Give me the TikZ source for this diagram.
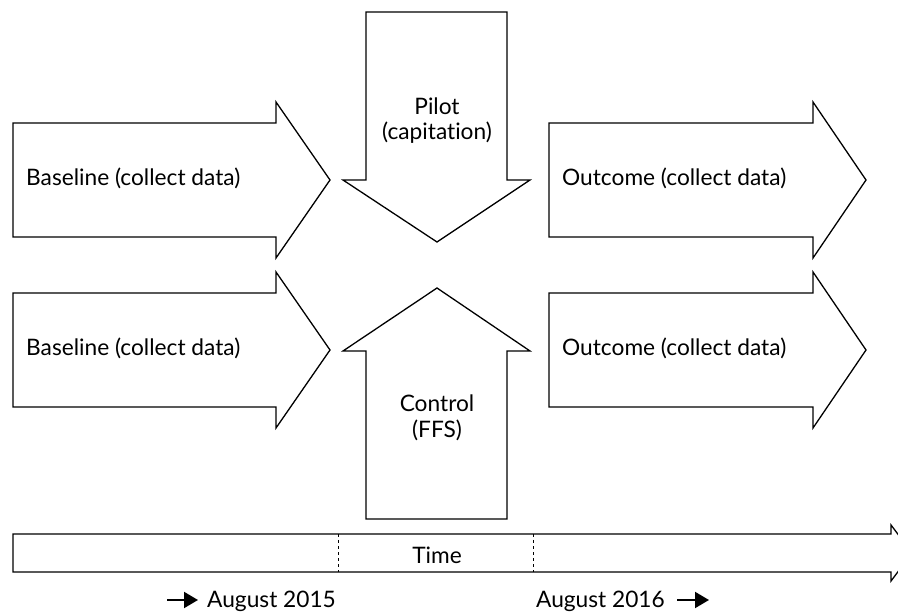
\documentclass[tikz,border=0pt]{standalone}
\usepackage{fontspec}
\setmainfont{Lato}[Ligatures={NoCommon}]
\usetikzlibrary{arrows.meta}
\begin{document}
\begin{tikzpicture}[x=1pt,y=-1pt,
  arrowshape/.style={draw=black,line width=1.3pt,line join=miter,fill=white},
  lbl/.style={inner sep=0pt,font=\fontsize{22.7}{26}\selectfont},
  datearrow/.style={line width=2pt,-{Triangle[length=14pt,width=16pt]}}]
\useasboundingbox (0,0) rectangle (898,612);
\clip (0,0) rectangle (898,612);
% row 1
\draw[arrowshape] (13,123) -- (276,123) -- (276,102) -- (330,180) -- (276,258) -- (276,237) -- (13,237) -- cycle;
\draw[arrowshape] (549,123) -- (813,123) -- (813,102) -- (866,180) -- (813,258) -- (813,237) -- (549,237) -- cycle;
\draw[arrowshape] (366,12) -- (507,12) -- (507,180) -- (530,180) -- (437,242) -- (343,180) -- (366,180) -- cycle;
% row 2
\draw[arrowshape] (13,293) -- (276,293) -- (276,272) -- (330,350) -- (276,428) -- (276,407) -- (13,407) -- cycle;
\draw[arrowshape] (549,293) -- (813,293) -- (813,272) -- (866,350) -- (813,428) -- (813,407) -- (549,407) -- cycle;
\draw[arrowshape] (366,519) -- (366,351) -- (343,351) -- (437,288) -- (530,351) -- (507,351) -- (507,519) -- cycle;
% timeline
\draw[arrowshape] (13,534) -- (891,534) -- (891,525) -- (912,553) -- (891,581) -- (891,572) -- (13,572) -- cycle;
\draw[dashed,line width=1pt] (338,534) -- (338,572);
\draw[dashed,line width=1pt] (533,534) -- (533,572);
% labels
\node[lbl,anchor=base west] (base1) at (26,186) {Baseline (collect data)};
\node[lbl,anchor=base west] (out1) at (562,186) {Outcome (collect data)};
\node[lbl,anchor=base] (pilot) at (437,115) {Pilot};
\node[lbl,anchor=base] (capit) at (437,140) {(capitation)};
\node[lbl,anchor=base west] (base2) at (26,356) {Baseline (collect data)};
\node[lbl,anchor=base west] (out2) at (562,356) {Outcome (collect data)};
\node[lbl,anchor=base] (control) at (437,412) {Control};
\node[lbl,anchor=base] (ffs) at (437,438) {(FFS)};
\node[lbl,anchor=base] (time) at (437,563) {Time};
\node[lbl,anchor=base west] (aug15) at (207,607) {August 2015};
\node[lbl,anchor=base east] (aug16) at (665,607) {August 2016};
\coordinate (a15s) at (167,600);
\coordinate (a16e) at (709,600);
\draw[datearrow] (a15s) -- ([xshift=-9pt]aug15.west |- a15s);
\draw[datearrow] ([xshift=12pt]aug16.east |- a16e) -- (a16e);
\end{tikzpicture}
\end{document}
